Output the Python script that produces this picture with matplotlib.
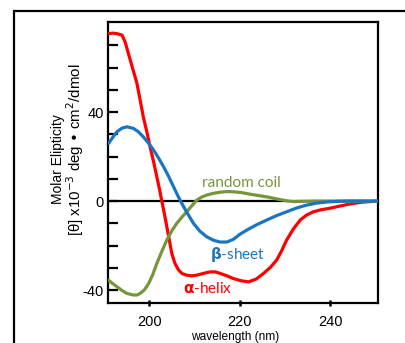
import matplotlib
matplotlib.use("Agg")
import matplotlib.pyplot as plt
from matplotlib.patches import Rectangle

# values (wavelength nm, ellipticity x10^-3)
helix_wl = [191, 192, 193, 194, 194.7, 195.4, 196.3, 197.3, 198, 198.7, 199.5, 200.2,
            201, 201.7, 202.3, 202.8, 203.4, 203.9, 204.5, 205, 205.7, 206.5, 207.3,
            208.3, 209.4, 210.5, 212, 213.5, 214.6, 215.7, 217.2, 218.6, 220.3, 222,
            223.7, 225.3, 226.8, 228.2, 229.3, 230.4, 231.9, 233.4, 234.8, 236.3,
            238, 240, 242, 244.4, 247, 250.5]
helix_val = [75.3, 75.5, 75.2, 74.6, 71.5, 66.4, 60, 52.9, 45.5, 37.9, 31, 24.4,
             17.5, 10.9, 5.2, 0, -6, -11.5, -18, -23.5, -28, -31, -32.6,
             -33.3, -33.6, -33.3, -32.5, -31.8, -31.8, -32.5, -33.6, -34.8, -35.8, -36.3,
             -35, -32.5, -29.8, -26.5, -22.3, -17.5, -12.5, -8.5, -6.3, -4.8,
             -3.9, -3.2, -2.3, -1.3, -0.5, 0]

sheet_wl = [191, 192, 192.9, 194, 195.1, 196.5, 197.6, 198.7, 199.8, 201, 202.1,
            203.2, 204.3, 205.4, 206.3, 207.2, 208.5, 209.8, 211.2, 212.7, 214.2,
            215.7, 217.2, 218.6, 220, 221.6, 223.8, 226, 228.2, 230.4, 232.6, 234.8,
            237, 239.3, 241.8, 244.4, 247.5, 250.5]
sheet_val = [25.9, 28.8, 31.2, 32.8, 33.4, 32.7, 31.2, 28.9, 26.2, 22.9, 19.3,
             15.4, 11.1, 6.4, 2.6, -1, -5.6, -10, -13.5, -16, -17.6,
             -18.4, -18.4, -17.2, -15, -13, -10.6, -8.5, -6.5, -4.8, -3.1, -1.8,
             -0.9, -0.4, -0.1, 0, 0, 0]

coil_wl = [191, 192, 192.9, 194, 195.1, 196.5, 197.3, 198, 199, 199.9, 200.8,
           201.7, 202.8, 203.9, 205, 206.1, 207.2, 208.3, 209.4, 210.5, 211.6,
           212.7, 214.2, 215.7, 217.2, 218.6, 220.5, 222.3, 224.2, 226, 227.9,
           229.7, 230.8, 231.9, 234, 237, 243, 250.5]
coil_val = [-35.5, -37.2, -38.5, -40.2, -41.5, -42.2, -42.2, -41.5, -39.8, -37, -33,
            -28, -22.6, -17.5, -13.4, -10, -7.3, -4.8, -2.2, 0.4, 1.8,
            2.7, 3.5, 4, 4.3, 4.2, 3.8, 3.1, 2.5, 1.9, 1.1,
            0.4, 0, -0.2, -0.1, 0, 0, 0]

y_ticklabels = [-40, 0, 40]
x_ticklabels = [200, 220, 240]

red = "#ff0000"
blue = "#1a75c0"
green = "#76963c"

plt.rcParams['font.family'] = ['Liberation Sans', 'DejaVu Sans']
plt.rcParams['axes.unicode_minus'] = False
fig = plt.figure(figsize=(4.05, 3.43), dpi=100)

W, H = 405, 343

# outer frame, cut off at right and bottom like the source image
fig.patches.append(Rectangle((14 / W, -0.2), 1.2, 1 - 10.5 / H + 0.2,
                             transform=fig.transFigure, fill=False,
                             edgecolor="black", linewidth=1.6))

ax = fig.add_axes([108 / W, 1 - 303 / H, 270 / W, 281 / H])
ax.axhline(0, color="black", linewidth=1.6, zorder=1)

line_kw = dict(linewidth=2.3, solid_joinstyle="round", solid_capstyle="round", zorder=3)
ax.plot(helix_wl, helix_val, color=red, **line_kw)
ax.plot(coil_wl, coil_val, color=green, **line_kw)
ax.plot(sheet_wl, sheet_val, color=blue, **line_kw)

ax.set_xlim(190.9, 250.6)
ax.set_ylim(-45.8, 80.5)

ax.set_xticks(x_ticklabels)
ax.set_yticks(y_ticklabels)
ax.set_yticks(range(-40, 80, 10), minor=True)
ax.tick_params(axis="y", which="both", direction="in", length=7, width=1.6,
               labelsize=10.5, pad=3)
ax.tick_params(axis="x", which="major", direction="inout", length=5, width=1.8,
               labelsize=10.5, pad=6)
for s in ax.spines.values():
    s.set_linewidth(1.6)

# axis titles placed as in the source
fig.text(58 / W, 1 - 159 / H, "Molar Elipticity", rotation=90, fontsize=10,
         ha="center", va="center")
fig.text(75 / W, 1 - 150 / H, "[θ] x10$^{-3}$ deg • cm$^{2}$/dmol", rotation=90,
         fontsize=10.8, ha="center", va="center")
fig.text(235 / W, 1 - 337 / H, "wavelength (nm)", fontsize=8.6,
         ha="center", va="center")

lab_font = ["Lato", "DejaVu Sans"]
ax.text(220.3, 8.0, "random coil", color=green, fontsize=11, family=lab_font,
        ha="center", va="center")
ax.text(219.5, -24.0, r"$\mathbf{\beta}$-sheet", color=blue, fontsize=11,
        family=lab_font, ha="center", va="center")
ax.text(213.0, -39.5, r"$\mathbf{\alpha}$-helix", color=red, fontsize=11,
        family=lab_font, ha="center", va="center")

fig.savefig("out.png", dpi=100)
